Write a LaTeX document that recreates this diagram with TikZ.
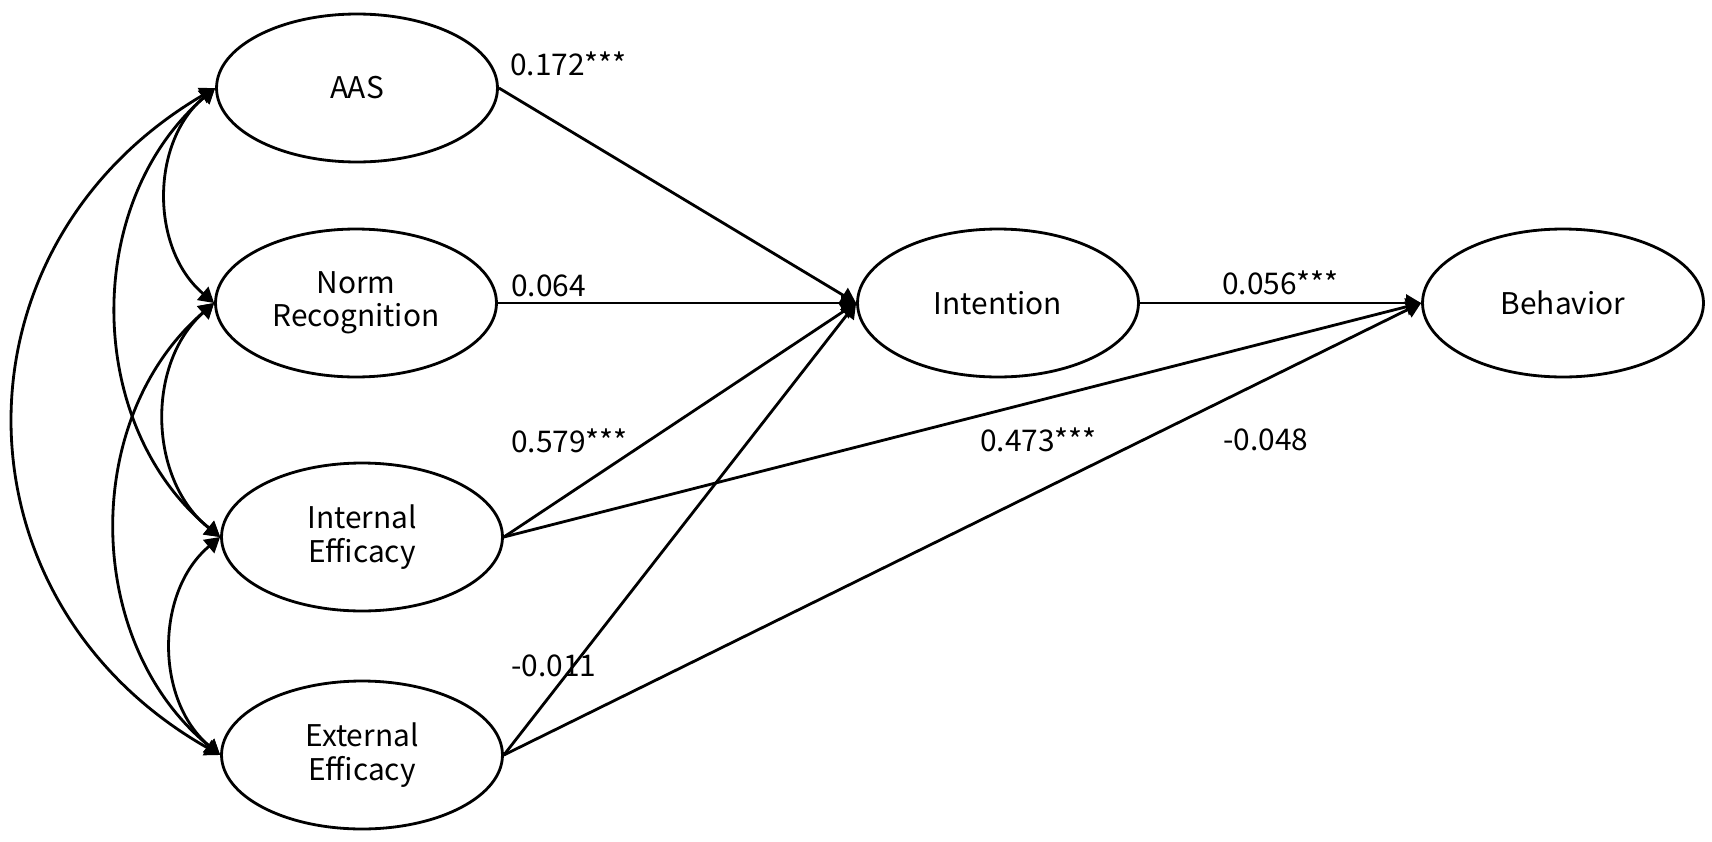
\documentclass[tikz,border=0pt]{standalone}
\usepackage{fontspec}
\setmainfont{Noto Sans CJK KR}
\usetikzlibrary{shapes.geometric,arrows.meta}

\begin{document}
\begin{tikzpicture}[x=0.02cm, y=0.02cm, >={Triangle[length=0.3cm,width=0.34cm]},
  latent/.style={ellipse, draw, line width=1.6pt, minimum width=5.62cm,
    minimum height=2.96cm, inner sep=0pt, align=center,
    font=\fontsize{17}{19}\selectfont},
  coef/.style={anchor=west, inner sep=0pt, font=\fontsize{17}{19}\selectfont},
  effect/.style={->, line width=1.6pt},
  cov/.style={<->, line width=1.6pt}]
\useasboundingbox (0,0) rectangle (1712,-842);

% === Exogenous constructs ===
\node[latent] (AAS) at (357,-88) {AAS};
\node[latent] (Norm) at (356,-303) {Norm\\Recognition};
\node[latent] (Internal) at (362,-537) {Internal\\Efficacy};
\node[latent] (External) at (362,-755) {External\\Efficacy};

% === Mediator and outcome ===
\node[latent] (Intention) at (998,-303) {Intention};
\node[latent] (Behavior) at (1563,-303) {Behavior};

% === Paths ===
\foreach \src in {AAS,Norm,Internal,External}{
  \draw[effect] (\src.east) -- (Intention.west);
}
\foreach \src in {Intention,Internal,External}{
  \draw[effect] (\src.east) -- (Behavior.west);
}

% === Covariances ===
\foreach \a/\b in {AAS/Norm,AAS/Internal,Norm/Internal,Norm/External,Internal/External}{
  \draw[cov] (\a.west) to[bend right=50] (\b.west);
}
\draw[cov] (AAS.west) to[bend right=60, looseness=1.2] (External.west);

% === Coefficients ===
\node[coef] (c-AAS) at (510,-64) {0.172***};
\node[coef] (c-Norm) at (511,-286) {0.064};
\node[coef] (c-IntI) at (511,-441) {0.579***};
\node[coef] (c-ExtI) at (511,-666) {-0.011};
\node[coef] (c-IntB) at (1222,-283) {0.056***};
\node[coef] (c-InB) at (980,-440) {0.473***};
\node[coef] (c-ExB) at (1223,-440) {-0.048};
\end{tikzpicture}
\end{document}
